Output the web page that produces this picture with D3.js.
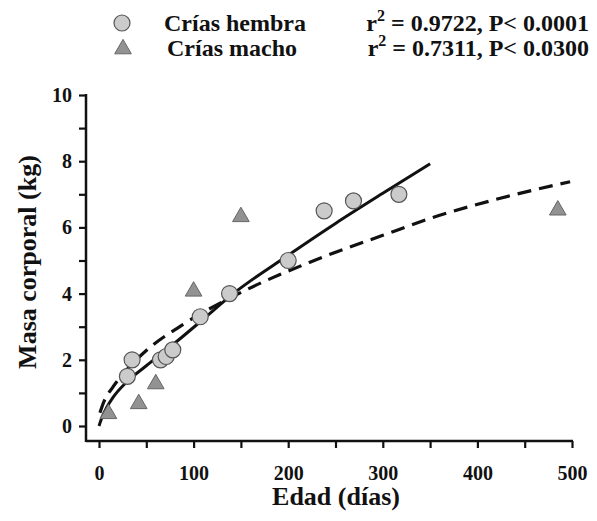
<!DOCTYPE html>
<html>
<head>
<meta charset="utf-8">
<script src="https://cdn.jsdelivr.net/npm/d3@7"></script>
<style>
  body { margin: 0; background: #fff; }
  text { font-family: "Liberation Serif", "Times New Roman", serif; font-weight: bold; fill: #111; }
</style>
</head>
<body>
<svg id="chart" width="597" height="521"></svg>
<script>
// female pups (circles): [edad, masa]
const hembras = [[30, 1.5], [35, 2.0], [65, 2.0], [71, 2.1], [78, 2.3], [107, 3.3],
    [138, 4.0], [200, 5.0], [238, 6.5], [269, 6.8], [317, 7.0]];
// male pups (triangles)
const machos = [[10, 0.4], [42, 0.7], [60, 1.3], [100, 4.1], [150, 6.35], [485, 6.55]];
// fitted curves
const curvaHembras = [[0, 0], [3, 0.25], [8, 0.55], [15, 0.87], [30, 1.35], [50, 1.82], [85, 2.62],
    [107, 3.15], [142, 4.0], [200, 5.16], [250, 6.12], [300, 7.03], [350, 7.92]];
const curvaMachos = [[1, 0.4], [5, 0.72], [15, 1.19], [30, 1.72], [50, 2.28], [89, 3.07], [142, 3.92],
    [223, 4.95], [300, 5.76], [353, 6.3], [420, 6.85], [498, 7.38]];
const xTicks = [0, 100, 200, 300, 400, 500];
const yTicks = [0, 2, 4, 6, 8, 10];
const leyenda = [
    { label: "Crías hembra", r2: "0.9722", p: "0.0001", tipo: "circle" },
    { label: "Crías macho", r2: "0.7311", p: "0.0300", tipo: "triangle" }
];

let svg = d3.select("#chart");

let x = d3.scaleLinear().domain([0, 500]).range([99, 572]);
let y = d3.scaleLinear().domain([0, 10]).range([426, 95]);

let axisX = 86, axisY = 441;

// x axis
let gx = svg.append("g").attr("transform", `translate(0,${axisY})`)
    .call(d3.axisBottom(x).tickValues(d3.range(0, 501, 50)).tickSize(7).tickFormat(d => xTicks.includes(d) ? d : ""));
gx.select(".domain").remove();
gx.selectAll(".tick line").attr("stroke", "#111").attr("stroke-width", 2.2);
gx.selectAll(".tick text").attr("font-size", 20).attr("dy", "1.45em")
    .style("font-family", "Liberation Serif").style("font-weight", "bold").attr("fill", "#111");
svg.append("line").attr("x1", axisX).attr("x2", x(500) + 1).attr("y1", axisY).attr("y2", axisY)
    .attr("stroke", "#111").attr("stroke-width", 2.5);

// y axis
let gy = svg.append("g").attr("transform", `translate(${axisX},0)`)
    .call(d3.axisLeft(y).tickValues(d3.range(0, 11, 1)).tickSize(7).tickFormat(d => yTicks.includes(d) ? d : ""));
gy.select(".domain").remove();
gy.selectAll(".tick line").attr("stroke", "#111").attr("stroke-width", 2.2);
gy.selectAll(".tick text").attr("font-size", 20).attr("x", -14)
    .style("font-family", "Liberation Serif").style("font-weight", "bold").attr("fill", "#111");
svg.append("line").attr("x1", axisX).attr("x2", axisX).attr("y1", y(10) - 1).attr("y2", axisY + 1)
    .attr("stroke", "#111").attr("stroke-width", 2.5);

// axis titles
svg.append("text").attr("x", 336).attr("y", 505).attr("text-anchor", "middle")
    .attr("font-size", 26).text("Edad (días)");
svg.append("text").attr("transform", "translate(36,262) rotate(-90)").attr("text-anchor", "middle")
    .attr("font-size", 26).text("Masa corporal (kg)");

// curves
let line = d3.line().x(d => x(d[0])).y(d => y(d[1])).curve(d3.curveMonotoneX);
svg.append("path").datum(curvaHembras).attr("d", line)
    .attr("fill", "none").attr("stroke", "#111").attr("stroke-width", 3);
svg.append("path").datum(curvaMachos).attr("d", line)
    .attr("fill", "none").attr("stroke", "#111").attr("stroke-width", 3.2)
    .attr("stroke-dasharray", "14,8");

// points
let tri = d3.symbol().type(d3.symbolTriangle).size(120);
svg.append("g").selectAll("path").data(machos).enter().append("path")
    .attr("d", tri)
    .attr("transform", d => `translate(${x(d[0])},${y(d[1]) + 1})`)
    .attr("fill", "#929292").attr("stroke", "#666").attr("stroke-width", 1);
svg.append("g").selectAll("circle").data(hembras).enter().append("circle")
    .attr("cx", d => x(d[0])).attr("cy", d => y(d[1])).attr("r", 8)
    .attr("fill", "#cbcbcb").attr("stroke", "#555").attr("stroke-width", 1.2);

// legend
let lg = svg.append("g").selectAll("g").data(leyenda).enter().append("g")
    .attr("transform", (d, i) => `translate(0,${23 + i * 25})`);
lg.filter(d => d.tipo === "circle").append("circle").attr("cx", 122).attr("cy", 0).attr("r", 8)
    .attr("fill", "#cbcbcb").attr("stroke", "#555").attr("stroke-width", 1.2);
lg.filter(d => d.tipo === "triangle").append("path").attr("d", d3.symbol().type(d3.symbolTriangle).size(120))
    .attr("transform", "translate(123,1)")
    .attr("fill", "#929292").attr("stroke", "#666").attr("stroke-width", 1);
lg.append("text").attr("x", (d, i) => i === 0 ? 164 : 167).attr("y", 8).attr("font-size", 24).text(d => d.label);
let rt = lg.append("text").attr("x", 589).attr("y", 8).attr("text-anchor", "end").attr("font-size", 24);
rt.append("tspan").text("r");
rt.append("tspan").attr("dy", -10).attr("font-size", 16).text("2");
rt.append("tspan").attr("dy", 10).text(d => ` = ${d.r2}, P< ${d.p}`);
</script>
</body>
</html>
